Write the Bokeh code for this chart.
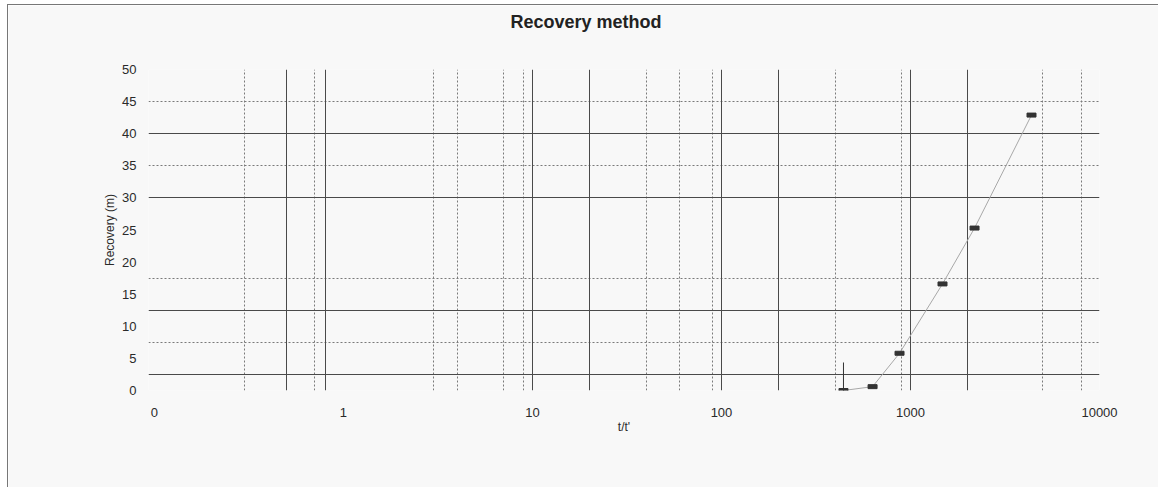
import math
from bokeh.plotting import figure
from bokeh.models import FixedTicker, Grid, Range1d, ColumnDataSource, Title
from bokeh.embed import file_html
from bokeh.resources import INLINE

# ---- data ----
t_ratio = [442, 630, 875, 1477, 2182, 4368]          # t/t'
recovery = [0.0, 0.6, 5.8, 16.6, 25.3, 42.9]         # Recovery (m)

x_ticks = [0.1, 1, 10, 100, 1000, 10000]
x_tick_labels = ["0", "1", "10", "100", "1000", "10000"]
y_ticks = [0, 5, 10, 15, 20, 25, 30, 35, 40, 45, 50]

# gridline values as they appear on the (scanned) reference
x_grid_solid = [0.5, 0.8, 10, 20, 100, 200, 1000, 2000]
x_grid_dashed = [0.3, 0.7, 3, 4, 7, 9, 40, 60, 90, 400, 900, 5000, 8000]
y_grid_solid = [0, 2.5, 12.5, 30, 40, 50]
y_grid_dashed = [7.5, 17.5, 35, 45]

FONT = "Liberation Sans"
BG = "#f8f8f8"

p = figure(width=1151, height=483, x_axis_type="log",
           x_range=Range1d(0.093, 10000), y_range=Range1d(0, 50),
           output_backend="svg", toolbar_location=None,
           min_border_left=140, min_border_right=60,
           min_border_top=64, min_border_bottom=98)

p.background_fill_color = BG
p.border_fill_color = BG
p.outline_line_color = None

p.xgrid.visible = False
p.ygrid.visible = False

def add_grid(dim, ticks, color, dash, width):
    g = Grid(dimension=dim, ticker=FixedTicker(ticks=ticks),
             grid_line_color=color, grid_line_dash=dash, grid_line_width=width)
    p.add_layout(g)

add_grid(0, x_grid_dashed, "#7a7a7a", "2 2", 1)
add_grid(1, y_grid_dashed, "#7a7a7a", "2 2", 1)
add_grid(0, x_grid_solid, "#4a4a4a", "solid", 1)
add_grid(1, y_grid_solid, "#4a4a4a", "solid", 1)

# axes
p.xaxis.ticker = FixedTicker(ticks=x_ticks)
p.xaxis.major_label_overrides = dict(zip(x_ticks, x_tick_labels))
p.yaxis.ticker = FixedTicker(ticks=y_ticks)
for ax in (p.xaxis[0], p.yaxis[0]):
    ax.axis_line_color = None
    ax.major_tick_line_color = None
    ax.minor_tick_line_color = None
    ax.major_label_text_font = FONT
    ax.major_label_text_font_size = "13px"
    ax.major_label_text_color = "#2a2a2a"
    ax.axis_label_text_font = FONT
    ax.axis_label_text_font_style = "normal"
    ax.axis_label_text_color = "#2a2a2a"

p.xaxis.axis_label = "t/t'"
p.xaxis.axis_label_text_font_size = "12px"
p.xaxis.major_label_standoff = 11
p.xaxis.axis_label_standoff = 0

p.yaxis.axis_label = "Recovery (m)"
p.yaxis.axis_label_text_font_size = "12px"
p.yaxis.major_label_standoff = 6
p.yaxis.axis_label_standoff = 2

# title: a thin spacer panel next to the frame, then the title above it
p.add_layout(Title(text=" ", text_font_size="2px", standoff=34,
                   text_color=BG), "above")
p.add_layout(Title(text="Recovery method", align="left", offset=362,
                   standoff=0, text_font=FONT, text_font_size="18px",
                   text_font_style="bold", text_color="#222222"), "above")

src = ColumnDataSource(dict(x=t_ratio, y=recovery))
p.line("x", "y", source=src, line_color="#a8a8a8", line_width=1)
p.rect("x", "y", width=9, height=4, width_units="screen", height_units="screen",
       source=src, fill_color="#333333", line_color="#333333")
# vertical mark at the first reading
p.scatter(x=t_ratio[:1], y=recovery[:1], marker="dash", angle=math.pi / 2,
          size=56, line_color="#333333", line_width=1)

p.styles = {"margin-left": "7px", "margin-top": "4px",
            "border-top": "1px solid #777777",
            "border-left": "1px solid #777777"}

open("out.html", "w").write(file_html(p, INLINE))
